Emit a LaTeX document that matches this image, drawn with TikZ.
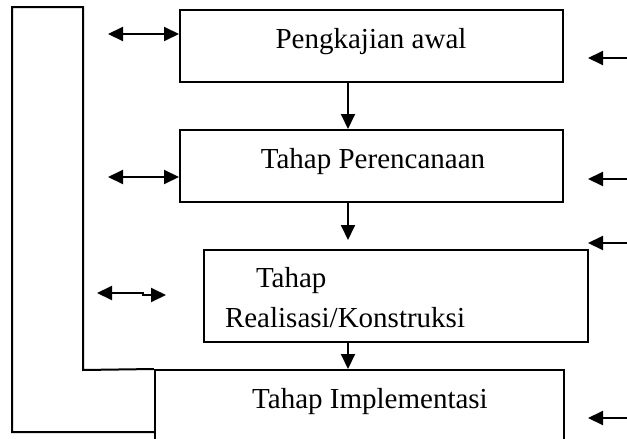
\documentclass[tikz,border=0pt]{standalone}
\usepackage{fontspec}
\setmainfont{Liberation Serif}
\usetikzlibrary{arrows.meta}
\begin{document}
\begin{tikzpicture}[x=1pt,y=-1pt,
  line width=2pt,
  boxstyle/.style={draw,rectangle,inner sep=0pt},
  lbl/.style={anchor=base,inner sep=0pt,font=\fontsize{29}{39}\selectfont},
  lblw/.style={anchor=base west,inner sep=0pt,font=\fontsize{29}{39}\selectfont},
  arr/.style={-{Triangle[length=15pt,width=14pt]}},
  darr/.style={{Triangle[length=15pt,width=14pt]}-{Triangle[length=15pt,width=14pt]}}]
\clip (0,0) rectangle (627,439);
\fill[white] (0,0) rectangle (627,439);
% boxes
\node[boxstyle,minimum width=383pt,minimum height=72pt] (b1) at (371.5,46) {};
\node[boxstyle,minimum width=383pt,minimum height=72pt] (b2) at (371.5,166) {};
\node[boxstyle,minimum width=384pt,minimum height=92pt] (b3) at (396,296) {};
\node[boxstyle,minimum width=409pt,minimum height=100pt] (b4) at (359.5,420) {};
% texts
\node[lbl] (t1) at (371,48) {Pengkajian awal};
\node[lbl] (t2) at (373,168) {Tahap Perencanaan};
\node[lblw] (t3a) at (255,287) {Tahap};
\node[lblw] (t3b) at (224,327) {Realisasi/Konstruksi};
\node[lbl] (t4) at (370,408) {Tahap Implementasi};
% outer frame
\coordinate (f1) at (83,370);
\coordinate (f2) at (83,7);
\coordinate (f3) at (12,7);
\coordinate (f4) at (12,432);
\coordinate (f5) at (155,432);
\draw (b4.north west) -- (f1) -- (f2) -- (f3) -- (f4) -- (f5);
% vertical arrows
\coordinate (ax) at (348,0);
\draw[arr] (ax |- b1.south) -- (ax |- b2.north);
\draw[arr,shorten >=9pt] (ax |- b2.south) -- (ax |- b3.north);
\draw[arr] (ax |- b3.south) -- (ax |- b4.north);
% left double arrows
\coordinate (l1) at (108,34);
\coordinate (l2) at (108,177);
\coordinate (l3a) at (97,293);
\coordinate (l3j1) at (143,293);
\coordinate (l3j2) at (143,295);
\coordinate (l3b) at (166,295);
\draw[darr] (l1) -- (l1 -| b1.west);
\draw[darr] (l2) -- (l2 -| b2.west);
\draw[darr] (l3a) -- (l3j1) -- (l3j2) -- (l3b);
% right arrows
\coordinate (r1s) at (630,58);  \coordinate (r1e) at (588,58);
\coordinate (r2s) at (630,179); \coordinate (r2e) at (588,179);
\coordinate (r3s) at (630,243); \coordinate (r3e) at (588,243);
\coordinate (r4s) at (630,418); \coordinate (r4e) at (588,418);
\draw[arr] (r1s) -- (r1e);
\draw[arr] (r2s) -- (r2e);
\draw[arr] (r3s) -- (r3e);
\draw[arr] (r4s) -- (r4e);
\end{tikzpicture}
\end{document}
